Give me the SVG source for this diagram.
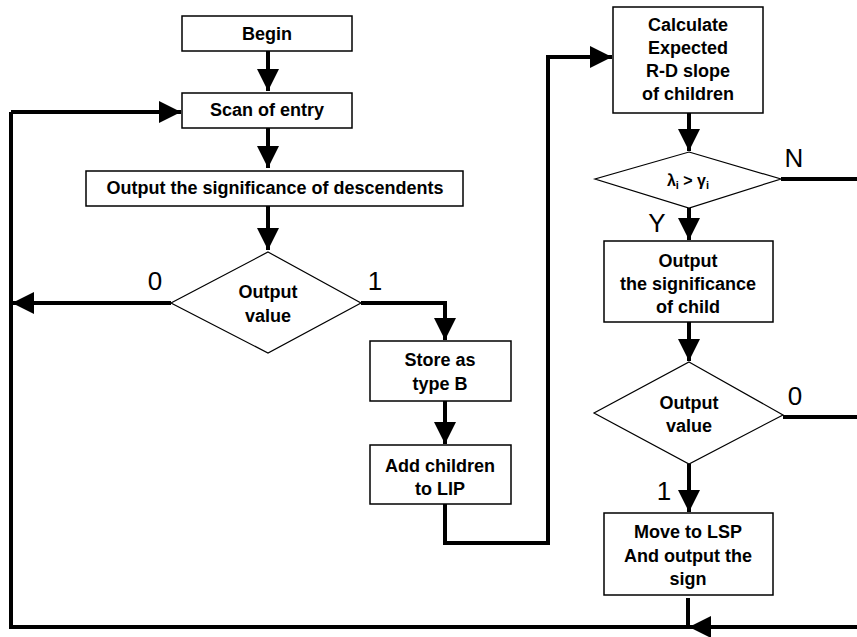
<svg xmlns="http://www.w3.org/2000/svg" width="857" height="637" viewBox="0 0 857 637">
<style>
.box{fill:#fff;stroke:#000;stroke-width:1.5}
.dia{fill:#fff;stroke:#000;stroke-width:1.2}
.t{font-family:"Liberation Sans",Arial,sans-serif;font-weight:bold;font-size:18px;text-anchor:middle;fill:#000}
.lbl{font-family:"Liberation Sans",Arial,sans-serif;font-size:26px;text-anchor:middle;fill:#000}
.c{fill:none;stroke:#000;stroke-width:4}
.ca{fill:none;stroke:#000;stroke-width:4;marker-end:url(#ah)}
</style>
<defs>
<marker id="ah" markerUnits="userSpaceOnUse" markerWidth="24" markerHeight="22" refX="22" refY="11" orient="auto">
<path d="M0,0 L22,11 L0,22 z" fill="#000"/>
</marker>
</defs>
<rect width="857" height="637" fill="#fff"/>
<g id="connectors">
<path class="ca" d="M268,51 V91"/>
<path class="ca" d="M268,128 V168"/>
<path class="ca" d="M268,206 V250"/>
<path class="ca" d="M171,303 H12"/>
<path class="c" d="M690,627 H11 V112"/>
<path class="ca" d="M11,112 H181"/>
<path class="ca" d="M361,303 H445 V340"/>
<path class="ca" d="M445,401 V444"/>
<path class="ca" d="M445,504 V543 H548 V57 H612"/>
<path class="ca" d="M689,113 V151"/>
<path class="c" d="M781,179 H857"/>
<path class="ca" d="M689,208 V240"/>
<path class="ca" d="M689,322 V361"/>
<path class="c" d="M783,417 H857"/>
<path class="ca" d="M689,464 V512"/>
<path class="c" d="M688,598 V627"/>
<path class="ca" d="M857,627 H689"/>
</g>
<g id="begin">
<rect class="box" x="182" y="16" width="170" height="35"/>
<text class="t" x="267" y="40">Begin</text>
</g>
<g id="scan">
<rect class="box" x="182" y="93" width="170" height="35"/>
<text class="t" x="267" y="116">Scan of entry</text>
</g>
<g id="outdesc">
<rect class="box" x="86" y="171" width="377" height="35"/>
<text class="t" x="275" y="194">Output the significance of descendents</text>
</g>
<g id="dia1">
<polygon class="dia" points="268,252 361,303 268,353 171,303"/>
<text class="t" x="268" y="298">Output</text>
<text class="t" x="268" y="322">value</text>
</g>
<g id="store">
<rect class="box" x="370" y="341" width="141" height="60"/>
<text class="t" x="440" y="366">Store as</text>
<text class="t" x="440" y="390">type B</text>
</g>
<g id="add">
<rect class="box" x="370" y="445" width="141" height="59"/>
<text class="t" x="440" y="472">Add children</text>
<text class="t" x="440" y="495">to LIP</text>
</g>
<g id="calc">
<rect class="box" x="613" y="7" width="150" height="106"/>
<text class="t" x="688" y="31">Calculate</text>
<text class="t" x="688" y="54">Expected</text>
<text class="t" x="688" y="77">R-D slope</text>
<text class="t" x="688" y="100">of children</text>
</g>
<g id="dia2">
<polygon class="dia" points="689,152 781,179 689,208 595,179"/>
<text class="t" x="688" y="186" style="font-size:16px">λ<tspan dy="3" style="font-size:11px">i</tspan><tspan dy="-3"> &gt; γ</tspan><tspan dy="3" style="font-size:11px">i</tspan></text>
</g>
<g id="outchild">
<rect class="box" x="604" y="241" width="169" height="81"/>
<text class="t" x="688" y="267">Output</text>
<text class="t" x="688" y="290">the significance</text>
<text class="t" x="688" y="313">of child</text>
</g>
<g id="dia3">
<polygon class="dia" points="689,362 783,415 689,464 594,413"/>
<text class="t" x="689" y="409">Output</text>
<text class="t" x="689" y="432">value</text>
</g>
<g id="move">
<rect class="box" x="604" y="513" width="169" height="82"/>
<text class="t" x="688" y="538">Move to LSP</text>
<text class="t" x="688" y="562">And output the</text>
<text class="t" x="688" y="585">sign</text>
</g>
<g id="labels">
<text class="lbl" x="155" y="290">0</text>
<text class="lbl" x="375" y="290">1</text>
<text class="lbl" x="794" y="167">N</text>
<text class="lbl" x="657" y="232">Y</text>
<text class="lbl" x="795" y="405">0</text>
<text class="lbl" x="664" y="500">1</text>
</g>
</svg>
